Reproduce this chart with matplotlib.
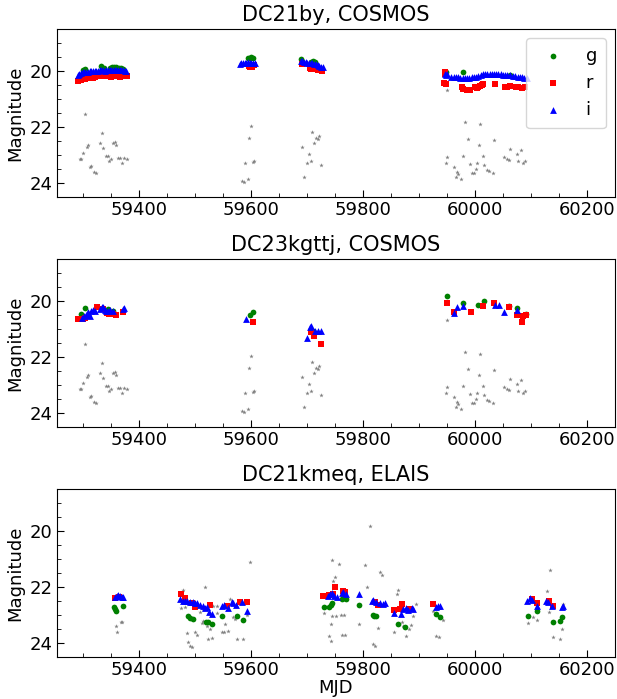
"""Light curves of three transients (g, r, i plus grey background points)."""

import matplotlib

matplotlib.use("Agg")
import matplotlib.pyplot as plt  # noqa: E402
from matplotlib.ticker import MultipleLocator  # noqa: E402

# ---- DC21by, COSMOS ----
by_g_mjd = [59300, 59304, 59333, 59337, 59348, 59352, 59356, 59360, 59364, 59368, 59372,
            59595, 59598, 59601, 59604,
            59690, 59708, 59711, 59714,
            59948, 59979, 60062]
by_g_mag = [19.95, 19.93, 19.83, 19.88, 19.88, 19.86, 19.86, 19.87, 19.88, 19.90, 19.92,
            19.55, 19.52, 19.50, 19.52,
            19.58, 19.68, 19.66, 19.68,
            20.05, 20.04, 20.15]
by_r_mjd = [59292, 59296, 59300, 59304, 59308, 59318, 59322, 59327, 59331, 59335, 59339,
            59343, 59347, 59351, 59355, 59359, 59363, 59367, 59371, 59375, 59379,
            59596, 59599, 59602, 59605,
            59692, 59705, 59708, 59712, 59716, 59720, 59724, 59727,
            59946, 59947, 59945, 59948, 59977, 59979, 59986, 59991, 60000, 60004, 60005,
            60009, 60013, 60014, 60036, 60054, 60057, 60062, 60073, 60077, 60084, 60089]
by_r_mag = [20.36, 20.33, 20.30, 20.28, 20.26, 20.25, 20.22, 20.17, 20.18, 20.15, 20.17,
            20.18, 20.16, 20.20, 20.19, 20.18, 20.17, 20.20, 20.18, 20.18, 20.18,
            19.82, 19.86, 19.84, 19.80,
            19.75, 19.90, 19.92, 19.88, 19.92, 19.96, 19.98, 20.00,
            20.04, 20.10, 20.44, 20.46, 20.57, 20.64, 20.68, 20.68, 20.57, 20.61, 20.57,
            20.54, 20.50, 20.46, 20.46, 20.57, 20.57, 20.54, 20.57, 20.57, 20.61, 20.57]
by_i_mjd = [59291, 59294, 59297, 59300, 59303, 59306, 59309, 59312, 59315, 59318, 59321,
            59324, 59327, 59330, 59333, 59336, 59339, 59342, 59345, 59348, 59351, 59354,
            59357, 59360, 59363, 59366, 59369, 59372, 59375, 59378,
            59580, 59583, 59586, 59589, 59592, 59595, 59598, 59601, 59604, 59607,
            59689, 59692, 59695, 59698, 59701, 59704, 59707, 59710, 59713, 59716, 59719,
            59722, 59725, 59728,
            59946, 59948, 59950, 59958, 59962, 59966, 59970, 59974, 59978, 59982, 59986,
            59990, 59994, 59998, 60002, 60006, 60010, 60014, 60018, 60022, 60026, 60030,
            60034, 60038, 60042, 60046, 60050, 60054, 60058, 60062, 60068, 60072, 60076,
            60080, 60084, 60088, 60092]
by_i_mag = [20.15, 20.12, 20.08, 20.05, 20.03, 20.02, 20.02, 20.01, 20.01, 20.00, 20.00,
            20.00, 19.99, 19.98, 19.97, 19.98, 19.99, 19.98, 19.97, 19.98, 19.97, 19.96,
            19.97, 19.96, 19.96, 19.97, 19.97, 19.98, 19.99, 20.00,
            19.74, 19.72, 19.70, 19.72, 19.70, 19.68, 19.70, 19.72, 19.71, 19.73,
            19.64, 19.66, 19.68, 19.69, 19.70, 19.70, 19.71, 19.72, 19.74, 19.76, 19.79,
            19.82, 19.84, 19.87,
            20.12, 20.16, 20.10, 20.20, 20.21, 20.22, 20.23, 20.24, 20.25, 20.24, 20.25,
            20.24, 20.23, 20.22, 20.20, 20.17, 20.14, 20.12, 20.11, 20.10, 20.09, 20.10,
            20.11, 20.11, 20.12, 20.12, 20.13, 20.14, 20.14, 20.15, 20.18, 20.18, 20.20,
            20.22, 20.23, 20.24, 20.26]

# grey points (identical in both COSMOS panels)
cosmos_x_mjd = [59295, 59297, 59300, 59304, 59307, 59309, 59312, 59314, 59320, 59323,
                59330, 59334, 59336, 59341, 59345, 59346, 59350, 59354, 59357, 59359,
                59362, 59366, 59370, 59373, 59379,
                59584, 59587, 59589, 59595, 59596, 59600, 59603, 59605,
                59691, 59695, 59700, 59704, 59707, 59709, 59712, 59716, 59720, 59721, 59725,
                59950, 59982, 60009, 59987, 60007, 60034, 59950, 59948, 59979, 60014, 59962,
                59968, 59970, 59966, 59975, 59991, 60004, 60016, 60002, 59995, 59998, 60021,
                60025, 60032, 60052, 60057, 60061, 60062, 60075, 60082, 60077, 60086, 60089]
cosmos_x_mag = [23.15, 23.13, 22.93, 21.55, 22.70, 22.66, 23.43, 23.40, 23.61, 23.65,
                22.56, 22.21, 22.75, 23.02, 23.05, 23.20, 23.14, 22.58, 22.55, 22.66,
                23.12, 23.10, 23.28, 23.12, 23.14,
                23.93, 23.98, 23.30, 23.84, 22.40, 21.97, 23.24, 23.20,
                22.71, 23.79, 23.29, 22.96, 23.21, 22.18, 22.57, 22.39, 22.43, 22.32, 23.36,
                20.68, 21.82, 21.89, 22.43, 22.64, 22.46, 23.07, 23.29, 23.04, 23.04, 23.43,
                23.61, 23.68, 23.79, 23.86, 23.32, 23.29, 23.36, 23.50, 23.64, 23.64, 23.54,
                23.57, 23.64, 23.07, 23.14, 23.18, 22.79, 22.96, 22.82, 23.21, 23.29, 23.21]

# ---- DC23kgttj, COSMOS ----
kg_g_mjd = [59297, 59304, 59345, 59354, 59598, 59604, 59711,
            59950, 59979, 60005, 60016, 60061, 60075, 60091]
kg_g_mag = [20.46, 20.26, 20.30, 20.34, 20.50, 20.39, 21.07,
            19.82, 20.07, 20.14, 20.00, 20.18, 20.25, 20.46]
kg_r_mjd = [59292, 59296, 59300, 59304, 59325, 59336, 59343, 59346, 59350, 59354, 59359,
            59371, 59604, 59707, 59712, 59725,
            59950, 59962, 59993, 60014, 60034, 60061, 60075, 60084, 60086, 60091]
kg_r_mag = [20.65, 20.65, 20.64, 20.62, 20.22, 20.30, 20.44, 20.46, 20.48, 20.48, 20.50,
            20.40, 20.75, 21.11, 21.25, 21.54,
            20.07, 20.40, 20.39, 20.18, 20.07, 20.20, 20.50, 20.75, 20.54, 20.50]
kg_i_mjd = [59298, 59302, 59305, 59307, 59309, 59312, 59315, 59318, 59321, 59330, 59334,
            59336, 59339, 59342, 59345, 59348, 59354, 59371, 59374,
            59591, 59700, 59705, 59707, 59714, 59720, 59725,
            59962, 59968, 59979, 60036, 60043, 60052, 60075]
kg_i_mag = [20.60, 20.55, 20.50, 20.46, 20.40, 20.54, 20.36, 20.32, 20.36, 20.28, 20.22,
            20.20, 20.32, 20.36, 20.36, 20.32, 20.36, 20.30, 20.26,
            20.64, 21.32, 20.93, 20.89, 21.07, 21.07, 21.07,
            20.43, 20.21, 20.18, 20.14, 20.14, 20.39, 20.32]

# ---- DC21kmeq, ELAIS ----
km_g_mjd = [59356, 59358, 59360, 59371,
            59488, 59491, 59496, 59520, 59523, 59530, 59548, 59575, 59586,
            59730, 59739, 59743, 59745, 59762, 59764, 59770, 59793, 59818, 59820, 59823,
            59862, 59875, 59930, 59938, 60095, 60111, 60139, 60152, 60155]
km_g_mag = [22.70, 22.80, 22.86, 22.68,
            23.04, 23.11, 23.14, 23.25, 23.25, 23.32, 23.04, 23.04, 23.18,
            22.71, 22.71, 22.64, 22.57, 22.43, 22.39, 22.43, 22.64, 23.00, 23.04, 23.04,
            23.32, 23.43, 22.96, 23.07, 23.04, 22.86, 23.25, 23.21, 23.07]
km_r_mjd = [59357, 59364,
            59475, 59482, 59495, 59500, 59527, 59557, 59580, 59593,
            59729, 59739, 59746, 59750, 59764, 59768, 59821, 59827,
            59855, 59866, 59870, 59884, 59925, 60102, 60111, 60132, 60139]
km_r_mag = [22.38, 22.35,
            22.25, 22.39, 22.57, 22.71, 22.64, 22.68, 22.54, 22.54,
            22.32, 22.29, 22.25, 22.00, 22.14, 22.18, 22.54, 22.64,
            22.82, 22.79, 22.61, 22.79, 22.61, 22.43, 22.57, 22.50, 22.68]
km_i_mjd = [59357, 59361, 59362, 59366, 59370, 59371,
            59473, 59479, 59482, 59486, 59491, 59496, 59500, 59504, 59509, 59514, 59518,
            59521, 59525, 59530, 59548, 59552, 59559, 59566, 59568, 59573, 59584, 59593,
            59738, 59741, 59745, 59748, 59754, 59762, 59764, 59770, 59793, 59816, 59818,
            59823, 59830, 59836, 59839,
            59855, 59868, 59871, 59877, 59880, 59888, 59889, 59930, 59934, 59938,
            60093, 60098, 60102, 60111, 60127, 60130, 60138, 60155, 60157]
km_i_mag = [22.36, 22.32, 22.29, 22.32, 22.36, 22.36,
            22.43, 22.50, 22.50, 22.50, 22.54, 22.54, 22.57, 22.57, 22.64, 22.68, 22.75,
            22.71, 22.89, 22.96, 22.68, 22.64, 22.75, 22.54, 22.57, 22.64, 22.54, 22.86,
            22.32, 22.25, 22.21, 22.32, 22.36, 22.21, 22.18, 22.25, 22.25, 22.50, 22.46,
            22.54, 22.57, 22.61, 22.57,
            22.93, 22.96, 22.79, 22.75, 22.82, 22.75, 22.79, 22.71, 22.68, 22.68,
            22.50, 22.39, 22.46, 22.68, 22.50, 22.54, 22.68, 22.71, 22.68]
km_x_mjd = [59359, 59368, 59370, 59361,
            59479, 59518, 59598, 59475, 59482, 59486, 59488, 59491, 59495, 59500, 59504,
            59512, 59514, 59521, 59527, 59523, 59530, 59532, 59539, 59539, 59554, 59548,
            59552, 59559, 59562, 59566, 59568, 59571, 59575, 59586, 59593, 59509, 59514,
            59745, 59757, 59750, 59746, 59730, 59745, 59752, 59761, 59766, 59743, 59739,
            59743, 59762, 59768, 59812, 59804, 59807, 59830, 59834, 59793, 59818, 59821,
            59827,
            59861, 59862, 59895, 59870, 59871, 59882, 59886, 59855, 59877, 59889,
            59925, 59943, 59930, 59936,
            60095, 60104, 60111,
            60134, 60129, 60132, 60157, 60139, 60152, 60155]
km_x_mag = [23.39, 23.25, 23.25, 23.61,
            22.11, 22.00, 21.11, 22.75, 22.71, 23.64, 23.96, 24.11, 24.14, 23.61, 23.71,
            23.29, 23.21, 23.39, 23.50, 23.86, 23.82, 22.68, 22.68, 22.93, 23.32, 23.61,
            23.61, 23.57, 22.43, 22.50, 23.07, 23.14, 23.86, 23.86, 23.00, 22.89, 22.79,
            21.04, 21.18, 21.64, 21.79, 22.93, 23.04, 23.04, 23.00, 23.00, 23.32, 23.75,
            23.93, 23.71, 23.71, 19.82, 21.21, 22.00, 21.46, 21.57, 23.32, 24.04, 24.11,
            23.46,
            22.25, 22.11, 22.61, 23.25, 23.39, 23.50, 23.36, 23.61, 23.75, 23.04,
            22.86, 23.18, 23.75, 23.79,
            23.29, 23.07, 23.18,
            21.39, 22.14, 22.89, 22.61, 23.79, 23.86, 23.50]

panels = [
    ("DC21by, COSMOS", by_g_mjd, by_g_mag, by_r_mjd, by_r_mag, by_i_mjd, by_i_mag,
     cosmos_x_mjd, cosmos_x_mag),
    ("DC23kgttj, COSMOS", kg_g_mjd, kg_g_mag, kg_r_mjd, kg_r_mag, kg_i_mjd, kg_i_mag,
     cosmos_x_mjd, cosmos_x_mag),
    ("DC21kmeq, ELAIS", km_g_mjd, km_g_mag, km_r_mjd, km_r_mag, km_i_mjd, km_i_mag,
     km_x_mjd, km_x_mag),
]

fig, axes = plt.subplots(3, 1, figsize=(6.17, 6.99), dpi=100)
fig.subplots_adjust(left=0.0924, right=0.9968, top=0.9585, bottom=0.0601, hspace=0.369)

for ax, (title, gx, gy, rx, ry, ix, iy, xx, xy) in zip(axes, panels):
    ax.scatter(xx, xy, s=11, marker="*", color="#7f7f7f", linewidths=0, zorder=1)
    ax.scatter(gx, gy, s=17, marker="o", color="green", linewidths=0, label="g", zorder=2)
    ax.scatter(rx, ry, s=16, marker="s", color="red", linewidths=0, label="r", zorder=3)
    ax.scatter(ix, iy, s=24, marker="^", color="blue", linewidths=0, label="i", zorder=4)
    ax.set_xlim(59254, 60250)
    ax.set_ylim(24.5, 18.5)
    ax.set_yticks([20, 22, 24])
    ax.xaxis.set_major_locator(MultipleLocator(200))
    ax.xaxis.set_minor_locator(MultipleLocator(50))
    ax.yaxis.set_minor_locator(MultipleLocator(0.5))
    ax.tick_params(which="both", direction="in", labelsize=13, pad=3)
    ax.tick_params(which="major", length=5)
    ax.tick_params(which="minor", length=3)
    ax.set_ylabel("Magnitude", fontsize=13)
    ax.set_title(title, fontsize=15)

axes[0].legend(loc="upper right", fontsize=13, borderpad=0.5)
axes[2].set_xlabel("MJD", fontsize=13, labelpad=0)

fig.savefig("out.png", dpi=100)
plt.close(fig)
